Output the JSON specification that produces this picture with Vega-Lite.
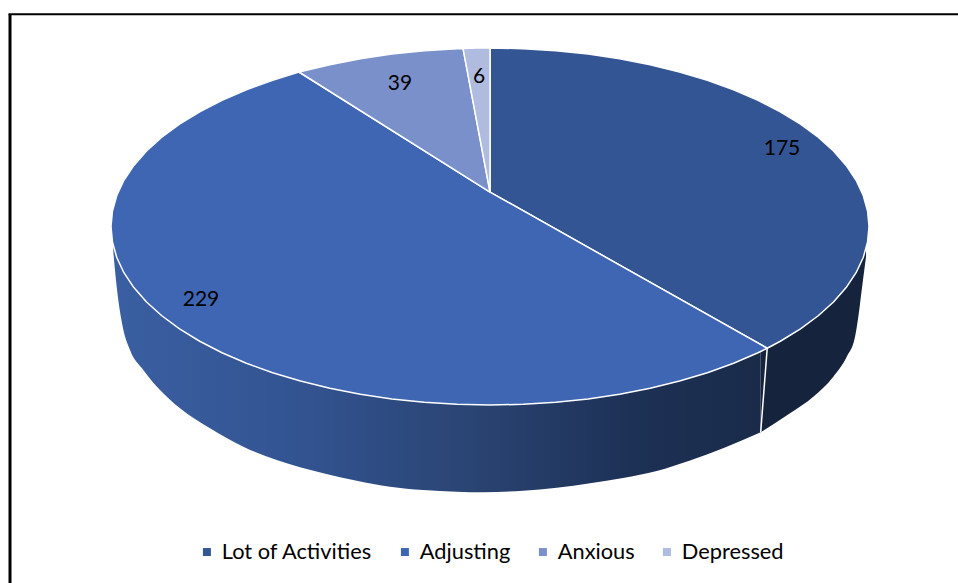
{"$schema":"https://vega.github.io/schema/vega-lite/v6.json","width":958,"height":583,"padding":0,"autosize":{"type":"none"},"background":"white","view":{"stroke":null},
"datasets":{
"wall":[
{"x":-0.9939,"y":-0.1417,"t":0},{"x":-0.985,"y":-0.3373,"t":0},{"x":-0.9691,"y":-0.5613,"t":0},{"x":-0.9499,"y":-0.6919,"t":0},{"x":-0.9148,"y":-0.8039,"t":0},{"x":-0.8707,"y":-0.916,"t":0},{"x":-0.8179,"y":-1.0185,"t":0},{"x":-0.7388,"y":-1.1305,"t":0},{"x":-0.6509,"y":-1.2336,"t":0},{"x":-0.5628,"y":-1.3081,"t":0},{"x":-0.4398,"y":-1.3826,"t":0},{"x":-0.3517,"y":-1.4241,"t":0},{"x":-0.2639,"y":-1.4577,"t":0},{"x":-0.176,"y":-1.4762,"t":0},{"x":-0.0879,"y":-1.4857,"t":0},{"x":-0.0185,"y":-1.489,"t":0},{"x":0.0871,"y":-1.4801,"t":0},{"x":0.176,"y":-1.4633,"t":0},{"x":0.2639,"y":-1.438,"t":0},{"x":0.3509,"y":-1.409,"t":0},{"x":0.4398,"y":-1.3697,"t":0},{"x":0.5277,"y":-1.3109,"t":0},{"x":0.62,"y":-1.2381,"t":0},{"x":0.7142,"y":-1.1529,"t":0}],
"wall2":[
{"x":0.7142,"y":-1.1529,"t":0},{"x":0.7916,"y":-1.0465,"t":0},{"x":0.853,"y":-0.9535,"t":0},{"x":0.9058,"y":-0.8415,"t":0},{"x":0.9412,"y":-0.7294,"t":0},{"x":0.9631,"y":-0.6174,"t":0},{"x":0.9718,"y":-0.5053,"t":0},{"x":0.9807,"y":-0.3557,"t":0},{"x":0.9921,"y":-0.1692,"t":0}],
"faces":[
{"s":"Lot of Activities","o":0,"x":0,"y":0.193},{"s":"Lot of Activities","o":1,"x":0,"y":1},{"s":"Lot of Activities","o":2,"x":0.0872,"y":0.9962},{"s":"Lot of Activities","o":3,"x":0.1736,"y":0.9848},{"s":"Lot of Activities","o":4,"x":0.2588,"y":0.9659},{"s":"Lot of Activities","o":5,"x":0.342,"y":0.9397},{"s":"Lot of Activities","o":6,"x":0.4226,"y":0.9063},{"s":"Lot of Activities","o":7,"x":0.5,"y":0.866},{"s":"Lot of Activities","o":8,"x":0.5736,"y":0.8192},{"s":"Lot of Activities","o":9,"x":0.6428,"y":0.766},{"s":"Lot of Activities","o":10,"x":0.7071,"y":0.7071},{"s":"Lot of Activities","o":11,"x":0.766,"y":0.6428},{"s":"Lot of Activities","o":12,"x":0.8192,"y":0.5736},{"s":"Lot of Activities","o":13,"x":0.866,"y":0.5},{"s":"Lot of Activities","o":14,"x":0.9063,"y":0.4226},{"s":"Lot of Activities","o":15,"x":0.9397,"y":0.342},{"s":"Lot of Activities","o":16,"x":0.9659,"y":0.2588},{"s":"Lot of Activities","o":17,"x":0.9848,"y":0.1736},{"s":"Lot of Activities","o":18,"x":0.9962,"y":0.0872},{"s":"Lot of Activities","o":19,"x":1,"y":0},{"s":"Lot of Activities","o":20,"x":0.9962,"y":-0.0872},{"s":"Lot of Activities","o":21,"x":0.9848,"y":-0.1736},{"s":"Lot of Activities","o":22,"x":0.9659,"y":-0.2588},{"s":"Lot of Activities","o":23,"x":0.9397,"y":-0.342},{"s":"Lot of Activities","o":24,"x":0.9063,"y":-0.4226},{"s":"Lot of Activities","o":25,"x":0.866,"y":-0.5},{"s":"Lot of Activities","o":26,"x":0.8192,"y":-0.5736},{"s":"Lot of Activities","o":27,"x":0.766,"y":-0.6428},{"s":"Lot of Activities","o":28,"x":0.7314,"y":-0.682},{"s":"Lot of Activities","o":29,"x":0,"y":0.193},
{"s":"Adjusting","o":0,"x":0,"y":0.193},{"s":"Adjusting","o":1,"x":0.7314,"y":-0.682},{"s":"Adjusting","o":2,"x":0.7071,"y":-0.7071},{"s":"Adjusting","o":3,"x":0.6428,"y":-0.766},{"s":"Adjusting","o":4,"x":0.5736,"y":-0.8192},{"s":"Adjusting","o":5,"x":0.5,"y":-0.866},{"s":"Adjusting","o":6,"x":0.4226,"y":-0.9063},{"s":"Adjusting","o":7,"x":0.342,"y":-0.9397},{"s":"Adjusting","o":8,"x":0.2588,"y":-0.9659},{"s":"Adjusting","o":9,"x":0.1736,"y":-0.9848},{"s":"Adjusting","o":10,"x":0.0872,"y":-0.9962},{"s":"Adjusting","o":11,"x":0,"y":-1},{"s":"Adjusting","o":12,"x":-0.0872,"y":-0.9962},{"s":"Adjusting","o":13,"x":-0.1736,"y":-0.9848},{"s":"Adjusting","o":14,"x":-0.2588,"y":-0.9659},{"s":"Adjusting","o":15,"x":-0.342,"y":-0.9397},{"s":"Adjusting","o":16,"x":-0.4226,"y":-0.9063},{"s":"Adjusting","o":17,"x":-0.5,"y":-0.866},{"s":"Adjusting","o":18,"x":-0.5736,"y":-0.8192},{"s":"Adjusting","o":19,"x":-0.6428,"y":-0.766},{"s":"Adjusting","o":20,"x":-0.7071,"y":-0.7071},{"s":"Adjusting","o":21,"x":-0.766,"y":-0.6428},{"s":"Adjusting","o":22,"x":-0.8192,"y":-0.5736},{"s":"Adjusting","o":23,"x":-0.866,"y":-0.5},{"s":"Adjusting","o":24,"x":-0.9063,"y":-0.4226},{"s":"Adjusting","o":25,"x":-0.9397,"y":-0.342},{"s":"Adjusting","o":26,"x":-0.9659,"y":-0.2588},{"s":"Adjusting","o":27,"x":-0.9848,"y":-0.1736},{"s":"Adjusting","o":28,"x":-0.9962,"y":-0.0872},{"s":"Adjusting","o":29,"x":-1,"y":0},{"s":"Adjusting","o":30,"x":-0.9962,"y":0.0872},{"s":"Adjusting","o":31,"x":-0.9848,"y":0.1736},{"s":"Adjusting","o":32,"x":-0.9659,"y":0.2588},{"s":"Adjusting","o":33,"x":-0.9397,"y":0.342},{"s":"Adjusting","o":34,"x":-0.9063,"y":0.4226},{"s":"Adjusting","o":35,"x":-0.866,"y":0.5},{"s":"Adjusting","o":36,"x":-0.8192,"y":0.5736},{"s":"Adjusting","o":37,"x":-0.766,"y":0.6428},{"s":"Adjusting","o":38,"x":-0.7071,"y":0.7071},{"s":"Adjusting","o":39,"x":-0.6428,"y":0.766},{"s":"Adjusting","o":40,"x":-0.5736,"y":0.8192},{"s":"Adjusting","o":41,"x":-0.504,"y":0.8655},{"s":"Adjusting","o":42,"x":0,"y":0.193},
{"s":"Anxious","o":0,"x":0,"y":0.193},{"s":"Anxious","o":1,"x":-0.504,"y":0.8655},{"s":"Anxious","o":2,"x":-0.4226,"y":0.9063},{"s":"Anxious","o":3,"x":-0.342,"y":0.9397},{"s":"Anxious","o":4,"x":-0.2588,"y":0.9659},{"s":"Anxious","o":5,"x":-0.1736,"y":0.9848},{"s":"Anxious","o":6,"x":-0.0872,"y":0.9962},{"s":"Anxious","o":7,"x":-0.0712,"y":0.9975},{"s":"Anxious","o":8,"x":0,"y":0.193},
{"s":"Depressed","o":0,"x":0,"y":0.193},{"s":"Depressed","o":1,"x":-0.0712,"y":0.9975},{"s":"Depressed","o":2,"x":-0.0349,"y":0.9994},{"s":"Depressed","o":3,"x":0,"y":1},{"s":"Depressed","o":4,"x":0,"y":0.193}],
"labels":[{"s":"Lot of Activities","v":175,"x":0.7704,"y":0.4398},{"s":"Adjusting","v":229,"x":-0.7625,"y":-0.406},{"s":"Anxious","v":39,"x":-0.2375,"y":0.8095},{"s":"Depressed","v":6,"x":-0.029,"y":0.8487}]
},
"layer":[
{"data":{"values":[{"x":-1.2665,"y":1.1885,"y2":-1.9972}]},"mark":{"type":"rule","stroke":"black","strokeWidth":3},"encoding":{"x":{"field":"x","type":"quantitative","scale":{"domain":[-1.2929,1.2348]},"axis":null},"y":{"field":"y","type":"quantitative","scale":{"domain":[-1.9972,1.2689]},"axis":null},"y2":{"field":"y2"}}},
{"data":{"values":[{"x":-1.2705,"x2":1.2348,"y":1.1885}]},"mark":{"type":"rule","stroke":"black","strokeWidth":2},"encoding":{"y":{"field":"y","type":"quantitative","scale":{"domain":[-1.9972,1.2689]},"axis":null},"x":{"field":"x","type":"quantitative","scale":{"domain":[-1.2929,1.2348]},"axis":null},"x2":{"field":"x2"}}},
{"data":{"name":"wall"},"mark":{"type":"area","orient":"vertical","interpolate":"monotone","fill":{"gradient":"linear","x1":0,"y1":0,"x2":1,"y2":0,"stops":[{"offset":0,"color":"#3A5FA2"},{"offset":0.3,"color":"#325390"},{"offset":0.55,"color":"#2A4473"},{"offset":0.8,"color":"#1D3156"},{"offset":1,"color":"#1A2B49"}]}},"encoding":{"x":{"field":"x","type":"quantitative","scale":{"domain":[-1.2929,1.2348]},"axis":null},"y":{"field":"y","type":"quantitative","scale":{"domain":[-1.9972,1.2689]},"axis":null},"y2":{"field":"t"}}},
{"data":{"name":"wall2"},"mark":{"type":"area","orient":"vertical","interpolate":"monotone","fill":"#15233D"},"encoding":{"x":{"field":"x","type":"quantitative","scale":{"domain":[-1.2929,1.2348]},"axis":null},"y":{"field":"y","type":"quantitative","scale":{"domain":[-1.9972,1.2689]},"axis":null},"y2":{"field":"t"}}},
{"data":{"name":"faces"},"mark":{"type":"line","stroke":"white","strokeWidth":1.5,"strokeJoin":"round"},"encoding":{"x":{"field":"x","type":"quantitative","scale":{"domain":[-1.2929,1.2348]},"axis":null},"y":{"field":"y","type":"quantitative","scale":{"domain":[-1.9972,1.2689]},"axis":null},"order":{"field":"o","type":"quantitative"},"detail":{"field":"s"},"fill":{"field":"s","type":"nominal","scale":{"domain":["Lot of Activities","Adjusting","Anxious","Depressed"],"range":["#335593","#3E66B3","#7A90CB","#B0BCDF"]},"legend":{"title":null,"orient":"none","legendX":196,"legendY":541,"direction":"horizontal","columns":4,"symbolType":"square","symbolSize":64,"symbolStrokeWidth":0,"labelFont":"Lato","labelFontSize":21.8,"labelColor":"black","labelOffset":4,"columnPadding":21,"labelLimit":300}}}},
{"data":{"values":[{"x":0.7314,"y":-0.682,"x2":0.7142,"y2":-1.1529}]},"mark":{"type":"rule","stroke":"white","strokeWidth":1.5},"encoding":{"x":{"field":"x","type":"quantitative","scale":{"domain":[-1.2929,1.2348]},"axis":null},"y":{"field":"y","type":"quantitative","scale":{"domain":[-1.9972,1.2689]},"axis":null},"x2":{"field":"x2"},"y2":{"field":"y2"}}},
{"data":{"name":"labels"},"mark":{"type":"text","font":"Lato","fontSize":21,"color":"black","align":"center","baseline":"middle","dy":1.5},"encoding":{"x":{"field":"x","type":"quantitative","scale":{"domain":[-1.2929,1.2348]},"axis":null},"y":{"field":"y","type":"quantitative","scale":{"domain":[-1.9972,1.2689]},"axis":null},"text":{"field":"v","type":"quantitative"}}}
]}
